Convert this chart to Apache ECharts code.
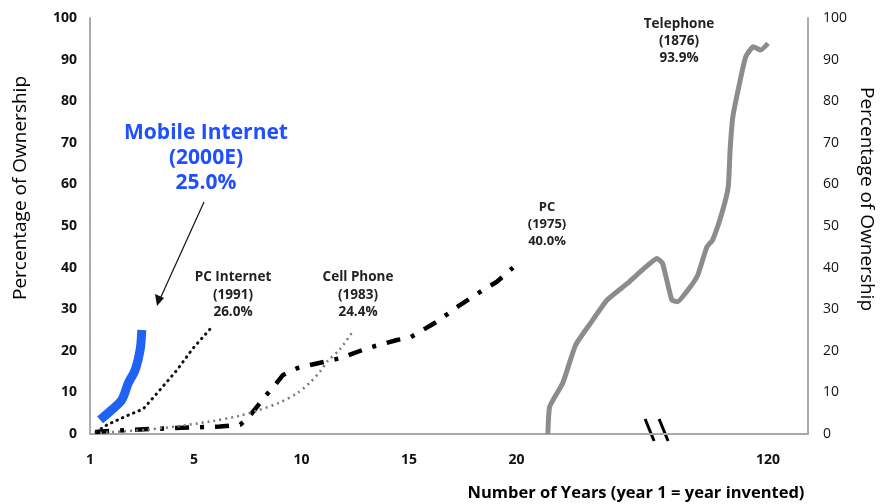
<!DOCTYPE html>
<html><head><meta charset="utf-8">
<script src="https://cdn.jsdelivr.net/npm/echarts@6/dist/echarts.min.js"></script>
<style>html,body{margin:0;padding:0;background:#fff}#c{width:885px;height:504px}</style>
</head><body><div id="c"></div>
<script>
// ---- data (x in years since invention; y = % ownership) ----
const mobileX = [0.63, 1.17, 1.64, 1.94, 2.26, 2.49, 2.57];
const mobileY = [3.4, 5.8, 8.2, 12.2, 15.4, 20.2, 25.0];

const pcInternetX = [0.44, 0.95, 1.79, 2.63, 3.28, 4.21, 4.95, 5.88];
const pcInternetY = [0.5, 2.2, 4.2, 6.0, 9.8, 15.4, 20.6, 26.0];

const cellX = [0.63, 2.72, 4.12, 5.74, 7.14, 7.93, 9.0, 9.79, 10.4, 10.86, 11.23, 11.79, 12.35];
const cellY = [0.3, 1.0, 1.8, 3.0, 4.4, 5.6, 7.6, 9.8, 12.4, 15.0, 17.6, 20.4, 24.4];

const pcX = [0.40, 2.02, 4.95, 6.21, 7.14, 7.51, 8.3, 8.77, 9.14, 9.79, 10.4, 11.79, 13.05, 14.44, 15.05, 15.65, 16.3, 17.37, 18.44, 19.09, 19.84];
const pcY = [0.5, 1.0, 1.6, 1.8, 2.2, 3.8, 9.0, 11.8, 14.2, 15.8, 16.6, 18.2, 20.6, 22.6, 23.2, 25.0, 27.0, 31.0, 34.6, 36.6, 40.0];

// telephone: real years (broken / compressed section of the axis)
const telYears = [1, 2, 9, 16, 24, 33, 44, 53, 60, 63, 68, 71, 78, 82, 87, 90, 95, 98.5, 99.5, 101, 105, 108, 112, 116, 120];
const telY = [0, 6.6, 12.2, 21.4, 26.6, 32.2, 36.2, 39.8, 42.2, 41.0, 32.2, 31.8, 35.4, 38.2, 45.0, 46.6, 53.0, 59.4, 68.3, 76.3, 85.1, 90.7, 93.1, 92.3, 93.9];

const xTickValues = [5, 10, 15, 20];

// broken-axis mapping for the telephone section
const X_MIN = 0.16, X_MAX = 33.56;
const TEL_START = 21.46, TEL_END = 31.70;
function telPos(y) { return TEL_START + (y - 1) * (TEL_END - TEL_START) / 119; }

const zip = (xs, ys) => xs.map((x, i) => [x, ys[i]]);
const FONT = 'Open Sans';

const chart = echarts.init(document.getElementById('c'), null, {renderer: 'canvas'});
const axisLineStyle = {color: '#a8a8a8', width: 2, type: [2, 1]};

const option = {
  animation: false,
  backgroundColor: '#fff',
  textStyle: {fontFamily: FONT},
  grid: {left: 90, right: 77, top: 18, bottom: 70, containLabel: false},
  xAxis: {
    type: 'value', min: X_MIN, max: X_MAX,
    axisLine: {show: true, lineStyle: axisLineStyle},
    axisTick: {show: false},
    splitLine: {show: false},
    axisLabel: {
      customValues: [X_MIN].concat(xTickValues, [telPos(120)]),
      formatter: v => (Math.abs(v - X_MIN) < 1e-6 ? '1' : (Math.abs(v - telPos(120)) < 1e-6 ? '120' : String(Math.round(v)))),
      color: '#111', fontWeight: 'bold', fontSize: 14, margin: 19, fontFamily: FONT
    }
  },
  yAxis: [{
    type: 'value', min: 0, max: 100, interval: 10, position: 'left',
    axisLine: {show: true, lineStyle: axisLineStyle},
    axisTick: {show: false}, splitLine: {show: false},
    axisLabel: {color: '#111', fontWeight: 'bold', fontSize: 14, margin: 13, fontFamily: FONT}
  }, {
    type: 'value', min: 0, max: 100, interval: 10, position: 'right',
    axisLine: {show: true, lineStyle: axisLineStyle},
    axisTick: {show: false}, splitLine: {show: false},
    axisLabel: {color: '#111', fontSize: 14, margin: 15, fontFamily: FONT}
  }],
  series: [
    {name: 'Telephone', type: 'line', showSymbol: false, smooth: 0.15,
     data: telYears.map((y, i) => [telPos(y), telY[i]]),
     lineStyle: {color: '#8c8c8c', width: 5}},
    {name: 'PC', type: 'line', showSymbol: false,
     data: zip(pcX, pcY),
     lineStyle: {color: '#000', width: 4.5, type: [14, 11, 4, 11]}},
    {name: 'Cell Phone', type: 'line', showSymbol: false, smooth: 0.3,
     data: zip(cellX, cellY),
     lineStyle: {color: '#7a7a7a', width: 2.5, type: [2, 4]}},
    {name: 'PC Internet', type: 'line', showSymbol: false,
     data: zip(pcInternetX, pcInternetY),
     lineStyle: {color: '#111', width: 3, type: [0.5, 5.5], cap: 'round'}},
    {name: 'Mobile Internet', type: 'line', showSymbol: false, smooth: 0.3,
     data: zip(mobileX, mobileY),
     lineStyle: {color: '#2062f5', width: 9}}
  ]
};
chart.setOption(option);

function txt(x, y, lines, size, weight, color, lh) {
  return {type: 'text', x: x, y: y, silent: true,
    style: {text: lines.join('\n'), fontSize: size, fontWeight: weight, fill: color,
      fontFamily: FONT, align: 'center', verticalAlign: 'middle', lineHeight: lh}};
}
const bx = chart.convertToPixel({xAxisIndex: 0}, 26.54);
const by = chart.convertToPixel({yAxisIndex: 0}, 0);
chart.setOption({graphic: [
  txt(206, 158, ['Mobile Internet', '(2000E)', '25.0%'], 21, 'bold', '#1f4fff', 25),
  txt(233, 295, ['PC Internet', '(1991)', '26.0%'], 13.5, 'bold', '#222', 17.5),
  txt(358, 295, ['Cell Phone', '(1983)', '24.4%'], 13.5, 'bold', '#222', 17.5),
  txt(547, 224, ['PC', '(1975)', '40.0%'], 13, 'bold', '#222', 17),
  txt(679, 41, ['Telephone', '(1876)', '93.9%'], 13.5, 'bold', '#222', 17),
  {type: 'line', silent: true, shape: {x1: 204, y1: 202, x2: 160, y2: 299},
   style: {stroke: '#111', lineWidth: 1.2}},
  {type: 'polygon', silent: true, shape: {points: [[157, 306], [155, 294], [164, 298]]},
   style: {fill: '#111'}},
  {type: 'line', silent: true, shape: {x1: bx - 12, y1: by - 15, x2: bx - 3, y2: by + 7},
   style: {stroke: '#000', lineWidth: 3}},
  {type: 'line', silent: true, shape: {x1: bx + 2, y1: by - 15, x2: bx + 11, y2: by + 7},
   style: {stroke: '#000', lineWidth: 3}},
  {type: 'text', x: 21, y: 188, rotation: Math.PI / 2, silent: true,
   style: {text: 'Percentage of Ownership', fontSize: 19, fill: '#000', fontFamily: FONT,
     align: 'center', verticalAlign: 'middle'}},
  {type: 'text', x: 866, y: 199, rotation: -Math.PI / 2, silent: true,
   style: {text: 'Percentage of Ownership', fontSize: 19, fill: '#000', fontFamily: FONT,
     align: 'center', verticalAlign: 'middle'}},
  {type: 'text', x: 636, y: 493, silent: true,
   style: {text: 'Number of Years (year 1 = year invented)', fontSize: 16.5, fontWeight: 'bold', fill: '#000',
     fontFamily: FONT, align: 'center', verticalAlign: 'middle'}}
]});
</script></body></html>
